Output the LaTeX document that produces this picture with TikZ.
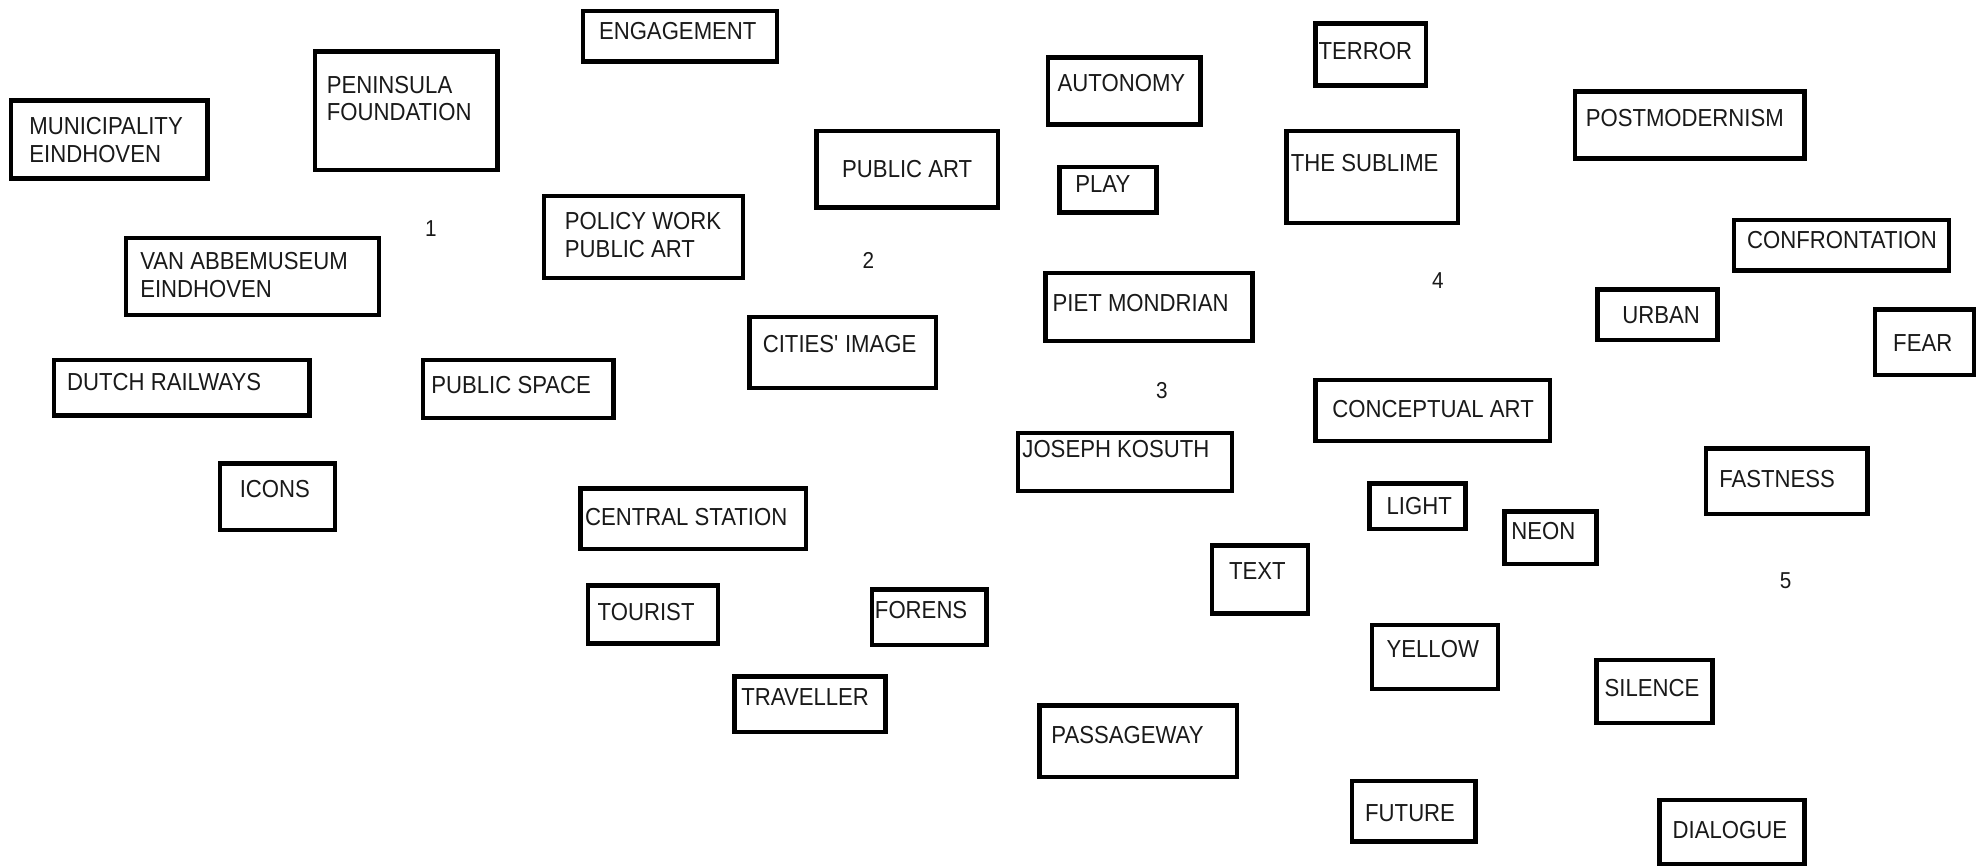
\documentclass[tikz,border=0pt]{standalone}
\usepackage{fontspec}
\setmainfont[FakeStretch=0.9]{Liberation Sans}
\begin{document}
\begin{tikzpicture}[x=0.63pt,y=-0.63pt,
  boxst/.style={draw=black, line width=2.2pt, rectangle, inner sep=0pt, anchor=north west},
  lbl/.style={inner sep=0pt, anchor=base west, align=left, text=black!90, font=\fontsize{12.3}{13.9}\selectfont},
  num/.style={inner sep=0pt, anchor=base, text=black!90, font=\fontsize{11.5}{13.9}\selectfont}]
\useasboundingbox (0,0) rectangle (1568,686.4);
\newcommand\cbox[8]{%
  \node[boxst, minimum width={(#4-#2)*0.63pt}, minimum height={(#5-#3)*0.63pt}] (#1) at (#2,#3) {};
  \node[lbl] (#1-t) at (#6,#7) {#8};}
% cluster 1
\cbox{engagement}{461}{7}{615}{47}{475}{31}{ENGAGEMENT}
\cbox{peninsula}{248}{39}{393}{133}{259}{96}{PENINSULA\\FOUNDATION}
\cbox{municipality}{7}{78}{163}{140}{23}{129}{MUNICIPALITY\\EINDHOVEN}
\cbox{policy}{430}{154}{588}{219}{448}{204}{POLICY WORK\\PUBLIC ART}
\cbox{vanabbe}{98}{187}{299}{248}{111}{236}{VAN ABBEMUSEUM\\EINDHOVEN}
\cbox{railways}{41}{284}{244}{328}{53}{310}{DUTCH RAILWAYS}
\cbox{publicspace}{334}{284}{485}{330}{342}{312}{PUBLIC SPACE}
\cbox{icons}{173}{366}{264}{419}{190}{395}{ICONS}
\node[num] (n1) at (342,188) {1};
% cluster 2
\cbox{publicart}{646}{102}{790}{163}{668}{141}{PUBLIC ART}
\cbox{cities}{593}{250}{741}{306}{605}{280}{CITIES\textquotesingle{} IMAGE}
\cbox{central}{459}{386}{638}{434}{464}{417}{CENTRAL STATION}
\cbox{tourist}{465}{463}{568}{509}{474}{492}{TOURIST}
\cbox{forens}{690}{466}{781}{510}{694}{491}{FORENS}
\cbox{traveller}{581}{535}{701}{579}{588}{560}{TRAVELLER}
\node[num] (n2) at (689,213) {2};
% cluster 3
\cbox{autonomy}{830}{44}{951}{97}{839}{73}{AUTONOMY}
\cbox{play}{839}{131}{916}{167}{853}{153}{PLAY}
\cbox{mondrian}{828}{215}{992}{269}{835}{247}{PIET MONDRIAN}
\cbox{kosuth}{806}{342}{976}{388}{811}{363}{JOSEPH KOSUTH}
\cbox{text}{960}{431}{1036}{485}{975}{460}{TEXT}
\cbox{passageway}{823}{558}{980}{615}{834}{590}{PASSAGEWAY}
\node[num] (n3) at (922,316) {3};
% cluster 4
\cbox{terror}{1042}{17}{1130}{66}{1046}{47}{TERROR}
\cbox{sublime}{1019}{102}{1155}{175}{1024}{136}{THE SUBLIME}
\cbox{conceptual}{1042}{300}{1228}{348}{1057}{331}{CONCEPTUAL ART}
\cbox{light}{1085}{382}{1161}{418}{1100}{408}{LIGHT}
\cbox{neon}{1192}{404}{1265}{446}{1199}{428}{NEON}
\cbox{yellow}{1087}{494}{1187}{545}{1100}{522}{YELLOW}
\cbox{future}{1071}{618}{1169}{666}{1083}{652}{FUTURE}
\node[num] (n4) at (1141,229) {4};
% cluster 5
\cbox{postmodernism}{1248}{71}{1430}{124}{1258}{100}{POSTMODERNISM}
\cbox{confrontation}{1374}{173}{1545}{213}{1386}{197}{CONFRONTATION}
\cbox{urban}{1266}{228}{1361}{268}{1287}{257}{URBAN}
\cbox{fear}{1486}{244}{1565}{296}{1502}{279}{FEAR}
\cbox{fastness}{1352}{354}{1480}{406}{1364}{387}{FASTNESS}
\cbox{silence}{1265}{522}{1357}{572}{1273}{553}{SILENCE}
\cbox{dialogue}{1315}{633}{1430}{684}{1327}{665}{DIALOGUE}
\node[num] (n5) at (1417,467) {5};
\end{tikzpicture}
\end{document}
